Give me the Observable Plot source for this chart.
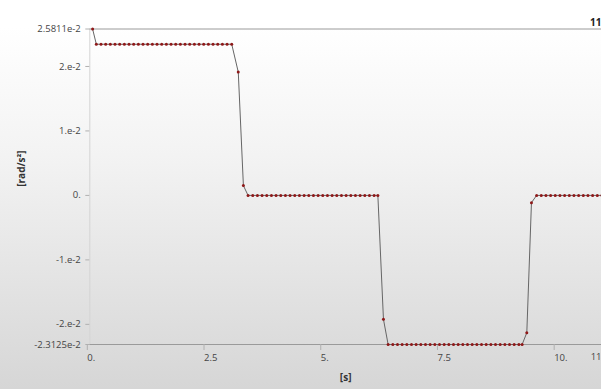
<!DOCTYPE html>
<html>
<head>
<meta charset="utf-8">
<script src="https://cdn.jsdelivr.net/npm/d3@7"></script>
<script src="https://cdn.jsdelivr.net/npm/@observablehq/plot@0.6"></script>
<style>
  html, body { margin: 0; padding: 0; background: #fff; }
</style>
</head>
<body>
<div id="chart"></div>
<script>
// Time points [s]
const time = [
  0.06,
  0.14,0.24,0.34,0.44,0.54,0.64,0.74,0.84,0.94,1.04,1.14,1.24,1.34,1.44,1.54,
  1.64,1.74,1.84,1.94,2.04,2.14,2.24,2.34,2.44,2.54,2.64,2.74,2.84,2.94,3.04,
  3.18,3.29,
  3.39,3.49,3.59,3.69,3.79,3.89,3.99,4.09,4.19,4.29,4.39,4.49,4.59,4.69,4.79,
  4.89,4.99,5.09,5.19,5.29,5.39,5.49,5.59,5.69,5.79,5.89,5.99,6.09,6.17,
  6.29,
  6.39,6.49,6.59,6.69,6.79,6.89,6.99,7.09,7.19,7.29,7.39,7.49,7.59,7.69,7.79,
  7.89,7.99,8.09,8.19,8.29,8.39,8.49,8.59,8.69,8.79,8.89,8.99,9.09,9.19,9.26,
  9.36,9.46,
  9.57,9.67,9.77,9.87,9.97,10.07,10.17,10.27,10.37,10.47,10.57,10.67,10.77,10.87,10.97
];
// Angular acceleration [rad/s²]
const accel = [
  0.025811,
  0.02345,0.02345,0.02345,0.02345,0.02345,0.02345,0.02345,0.02345,0.02345,0.02345,
  0.02345,0.02345,0.02345,0.02345,0.02345,0.02345,0.02345,0.02345,0.02345,0.02345,
  0.02345,0.02345,0.02345,0.02345,0.02345,0.02345,0.02345,0.02345,0.02345,0.02345,
  0.01913,0.00152,
  0,0,0,0,0,0,0,0,0,0,0,0,0,0,0,0,0,0,0,0,0,0,0,0,0,0,0,0,0,
  -0.01922,
  -0.023125,-0.023125,-0.023125,-0.023125,-0.023125,-0.023125,-0.023125,-0.023125,-0.023125,-0.023125,
  -0.023125,-0.023125,-0.023125,-0.023125,-0.023125,-0.023125,-0.023125,-0.023125,-0.023125,-0.023125,
  -0.023125,-0.023125,-0.023125,-0.023125,-0.023125,-0.023125,-0.023125,-0.023125,-0.023125,-0.023125,
  -0.02130,-0.00112,
  0,0,0,0,0,0,0,0,0,0,0,0,0,0,0
];
const yTicks = [0.025811, 0.02, 0.01, 0, -0.01, -0.02, -0.023125];
const yTickLabels = ["2.5811e-2", "2.e-2", "1.e-2", "0.", "-1.e-2", "-2.e-2", "-2.3125e-2"];
const xTicks = [0, 2.5, 5, 7.5, 10];
const xTickLabels = ["0.", "2.5", "5.", "7.5", "10."];
const xLabel = "[s]";
const yLabel = "[rad/s²]";
const cornerLabel = "11";

const data = time.map((t, i) => ({t, a: accel[i]}));
const yMap = new Map(yTicks.map((v, i) => [v, yTickLabels[i]]));
const xMap = new Map(xTicks.map((v, i) => [v, xTickLabels[i]]));
const yMax = yTicks[0], yMin = yTicks[yTicks.length - 1];

const chart = Plot.plot({
  width: 601,
  height: 389,
  marginLeft: 89.3,
  marginRight: 0,
  marginTop: 28.5,
  marginBottom: 45,
  style: {
    fontFamily: "'Open Sans', sans-serif",
    fontSize: "9.5px",
    background: "linear-gradient(to bottom, #ffffff 0%, #ffffff 7%, #f3f3f3 40%, #d6d6d6 100%)",
    overflow: "visible"
  },
  x: {domain: [0, 10.96]},
  y: {domain: [yMin, yMax]},
  marks: [
    Plot.ruleX([0], {stroke: "#d4d4d4", strokeWidth: 1}),
    Plot.ruleY([yMax], {stroke: "#9a9a9a", strokeWidth: 1}),
    Plot.ruleY([yMin], {stroke: "#9a9a9a", strokeWidth: 1}),
    Plot.axisY({
      ticks: yTicks, tickFormat: d => yMap.get(d), tickSize: 4, tickPadding: 5,
      stroke: "#b0b0b0", fill: "#444", label: null
    }),
    Plot.axisX({
      ticks: xTicks, tickFormat: d => xMap.get(d), tickSize: 6, tickPadding: 4,
      textAnchor: "start", dx: -2.5, stroke: "#b0b0b0", fill: "#444", label: null
    }),
    Plot.line(data, {x: "t", y: "a", stroke: "#666", strokeWidth: 1}),
    Plot.dot(data, {x: "t", y: "a", r: 1.5, fill: "#8e1818", stroke: "none"}),
    Plot.text([cornerLabel], {frameAnchor: "top-right", dy: -10, dx: 0, textAnchor: "end",
      fontWeight: "bold", fontSize: 10, fill: "#222"}),
    Plot.text([cornerLabel], {frameAnchor: "bottom-right", dy: 15, dx: 0, textAnchor: "end",
      fill: "#444"}),
    Plot.text([xLabel], {frameAnchor: "bottom", dy: 36, fontWeight: "bold", fontSize: 10, fill: "#333"}),
    Plot.text([yLabel], {frameAnchor: "left", dx: -68, rotate: -90, fontWeight: "bold", fontSize: 10, fill: "#333"})
  ]
});
document.getElementById("chart").appendChild(chart);
</script>
</body>
</html>
